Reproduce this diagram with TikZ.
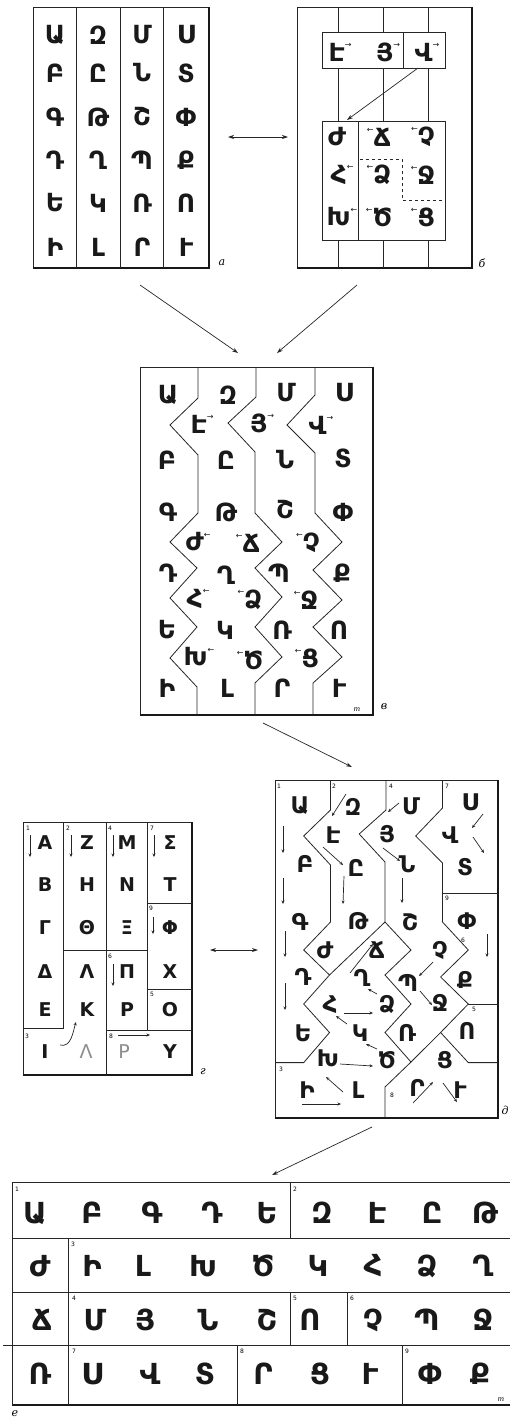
\documentclass[tikz,border=0pt]{standalone}
\usepackage{fontspec}
\setmainfont{DejaVu Sans}
\newfontfamily\labfont{DejaVu Serif}
\usetikzlibrary{arrows.meta,calc}
\newcommand\myra{\raisebox{0.55em}{\fontsize{8}{8}\selectfont\mdseries →}}
\newcommand\myla{\raisebox{0.55em}{\fontsize{8}{8}\selectfont\mdseries ←}}
\begin{document}
\begin{tikzpicture}[x=1pt,y=-1pt,
  ln/.style={line width=0.8pt, draw=black!85},
  thk/.style={line width=2.4pt, draw=black!90},
  hy/.style={font=\fontsize{25}{25}\selectfont\bfseries, inner sep=0pt, text=black!90},
  hyd/.style={font=\fontsize{23}{23}\selectfont\bfseries, inner sep=0pt, text=black!90},
  hye/.style={font=\fontsize{29}{29}\selectfont\bfseries, inner sep=0pt, text=black!90},
  gr/.style={font=\fontsize{19}{19}\selectfont\bfseries, inner sep=0pt, text=black!90},
  grl/.style={font=\fontsize{19}{19}\selectfont, inner sep=0pt, text=black!45},
  num/.style={font=\fontsize{6}{6}\selectfont, inner sep=0pt},
  lab/.style={font=\labfont\itshape\fontsize{11}{11}\selectfont, inner sep=0pt},
  mono/.style={font=\labfont\itshape\fontsize{7}{7}\selectfont, inner sep=0pt},
  arr/.style={-{Stealth[length=6pt,width=4pt]}, line width=0.7pt, draw=black!85},
  darr/.style={{Stealth[length=6pt,width=4pt]}-{Stealth[length=6pt,width=4pt]}, line width=0.7pt, draw=black!85},
  sarr/.style={-{Stealth[length=3.5pt,width=3pt]}, line width=0.7pt, draw=black!85},
]
\useasboundingbox (0,0) rectangle (510,1422);

% ---------- panel a ----------
\draw[ln] (33,7) rectangle (209,268);
\draw[thk] (209,7) -- (209,268) -- (33,268);
\foreach \x in {76,120,163} \draw[ln] (\x,7) -- (\x,268);
\foreach \l/\y [count=\r] in {Ա/35,Բ/73,Գ/117,Դ/160,Ե/203,Ի/247} \node[hy] (aA\r) at (55,\y) {\l};
\foreach \l/\y [count=\r] in {Զ/35,Ը/73,Թ/117,Ղ/160,Կ/203,Լ/247} \node[hy] (aB\r) at (98,\y) {\l};
\foreach \l/\y [count=\r] in {Մ/35,Ն/73,Շ/117,Պ/160,Ռ/203,Ր/247} \node[hy] (aC\r) at (142,\y) {\l};
\foreach \l/\y [count=\r] in {Ս/35,Տ/73,Փ/117,Ք/160,Ո/203,Ւ/247} \node[hy] (aD\r) at (186,\y) {\l};
\node[lab] (la) at (222,263) {а};

% ---------- panel b ----------
\draw[ln] (297,7) rectangle (472,268);
\draw[thk] (472,7) -- (472,268) -- (297,268);
\foreach \x in {338,383,428} {\draw[ln] (\x,7)--(\x,32); \draw[ln] (\x,68)--(\x,121); \draw[ln] (\x,240)--(\x,268);}
\draw[ln] (322,32) rectangle (445,68);
\draw[ln] (403,32) -- (403,68);
\draw[ln] (322,121) rectangle (445,240);
\draw[ln] (358,121) -- (358,240);
\draw[ln, dashed] (360,159) -- (402,159) -- (402,200) -- (445,200);
\node[hy] (b7) at (340,52) {Է\myra};
\node[hy] (b21) at (388,52) {Յ\myra};
\node[hy] (b30) at (427,52) {Վ\myra};
\node[hy] (b10) at (337,137) {Ժ};
\node[hy] (b19) at (379,137) {\myla Ճ};
\node[hy] (b25) at (423,137) {\myla Չ};
\node[hy] (b16) at (342,175) {Հ\myla};
\node[hy] (b17) at (379,175) {\myla Ձ};
\node[hy] (b27) at (423,175) {\myla Ջ};
\node[hy] (b13) at (342,217) {Խ\myla};
\node[hy] (b14) at (379,217) {\myla Ծ};
\node[hy] (b33) at (423,217) {\myla Ց};
\coordinate (bfrom) at (418,68);
\coordinate (bto) at (347,120);
\draw[arr] (bfrom) -- (bto);
\node[lab] (lb) at (482,263) {б};

% arrows between a, b, v
\coordinate (ab1) at (228,137); \coordinate (ab2) at (288,137);
\draw[darr] (ab1) -- (ab2);
\coordinate (av1) at (140,285); \coordinate (av2) at (238,353);
\draw[arr] (av1) -- (av2);
\coordinate (bv1) at (357,285); \coordinate (bv2) at (277,353);
\draw[arr] (bv1) -- (bv2);

% ---------- panel v ----------
\draw[ln] (140,367) rectangle (373,715);
\draw[thk] (373,367) -- (373,715) -- (140,715);
\draw[ln] (198,367)--(198,398)--(170,425)--(198,455)--(198,513)--(170,542)--(197,568)--(170,598)--(197,627)--(170,658)--(197,687)--(197,715);
\draw[ln] (256,367)--(256,397)--(228,423)--(255,452)--(255,513)--(282,542)--(255,568)--(282,597)--(255,627)--(282,657)--(255,683)--(255,715);
\draw[ln] (315,367)--(315,395)--(287,425)--(315,453)--(315,513)--(342,542)--(313,570)--(342,600)--(313,627)--(342,657)--(313,683)--(313,715);
\node[hy] (v1) at (168,395) {Ա};
\node[hy] (v6) at (228,395) {Զ};
\node[hy] (v20) at (286,393) {Մ};
\node[hy] (v29) at (344,393) {Ս};
\node[hy] (v7) at (202,424) {Է\myra};
\node[hy] (v21) at (262,423) {Յ\myra};
\node[hy] (v30) at (321,425) {Վ\myra};
\node[hy] (v2) at (167,460) {Բ};
\node[hy] (v8) at (226,460) {Ը};
\node[hy] (v22) at (285,460) {Ն};
\node[hy] (v31) at (343,458) {Տ};
\node[hy] (v3) at (168,512) {Գ};
\node[hy] (v9) at (226,512) {Թ};
\node[hy] (v23) at (285,510) {Շ};
\node[hy] (v35) at (343,512) {Փ};
\node[hy] (v10) at (198,542) {Ժ\myla};
\node[hy] (v19) at (248,543) {\myla Ճ};
\node[hy] (v25) at (308,543) {\myla Չ};
\node[hy] (v4) at (168,573) {Դ};
\node[hy] (v18) at (226,575) {Ղ};
\node[hy] (v26) at (279,573) {Պ};
\node[hy] (v36) at (342,573) {Ք};
\node[hy] (v16) at (198,599) {Հ\myla};
\node[hy] (v17) at (250,600) {\myla Ձ};
\node[hy] (v27) at (306,600) {\myla Ջ};
\node[hy] (v5) at (167,630) {Ե};
\node[hy] (v15) at (225,630) {Կ};
\node[hy] (v28) at (282,630) {Ռ};
\node[hy] (v24) at (339,630) {Ո};
\node[hy] (v13) at (199,657) {Խ\myla};
\node[hy] (v14) at (250,660) {\myla Ծ};
\node[hy] (v33) at (307,658) {\myla Ց};
\node[hy] (v11) at (167,688) {Ի};
\node[hy] (v12) at (227,688) {Լ};
\node[hy] (v32) at (282,688) {Ր};
\node[hy] (v34) at (339,688) {Ւ};
\node[mono] (vm) at (357,710) {m};
\node[lab] (lv) at (384,707) {в};

\coordinate (vd1) at (263,723); \coordinate (vd2) at (352,767);
\draw[arr] (vd1) -- (vd2);

% ---------- panel g (Greek) ----------
\draw[ln] (23,822) rectangle (192,1075);
\draw[thk] (192,822) -- (192,1075) -- (23,1075);
\draw[ln] (63,822) -- (63,1028) -- (23,1028);
\draw[ln] (106,822) -- (106,1075);
\draw[ln] (147,822) -- (147,1030);
\draw[ln] (147,903) -- (192,903);
\draw[ln] (63,950) -- (147,950);
\draw[ln] (147,989) -- (192,989);
\draw[ln] (106,1030) -- (192,1030);
\foreach \l/\y [count=\r] in {A/843,B/885,Γ/928,Δ/972,E/1010,I/1052} \node[gr] (gA\r) at (45,\y) {\l};
\foreach \l/\y [count=\r] in {Z/843,H/885,Θ/928,Λ/972,K/1010} \node[gr] (gB\r) at (87,\y) {\l};
\node[grl] (gB6) at (86,1052) {Λ};
\foreach \l/\y [count=\r] in {M/843,N/885,Ξ/928,Π/972,P/1010} \node[gr] (gC\r) at (127,\y) {\l};
\node[grl] (gC6) at (124,1052) {P};
\foreach \l/\y [count=\r] in {Σ/843,T/885,Φ/928,X/972,O/1010,Y/1052} \node[gr] (gD\r) at (170,\y) {\l};
\node[num] (gn1) at (28,828) {1};
\node[num] (gn2) at (68,828) {2};
\node[num] (gn4) at (110,828) {4};
\node[num] (gn7) at (152,828) {7};
\node[num] (gn9) at (151,908) {9};
\node[num] (gn6) at (110,956) {6};
\node[num] (gn5) at (152,994) {5};
\node[num] (gn3) at (27,1036) {3};
\node[num] (gn8) at (111,1036) {8};
\draw[sarr] ($(gA1)+(-15,-8)$) -- ($(gA1)+(-15,14)$);
\draw[sarr] ($(gB1)+(-16,-8)$) -- ($(gB1)+(-16,14)$);
\draw[sarr] ($(gC1)+(-14,-8)$) -- ($(gC1)+(-14,14)$);
\draw[sarr] ($(gD1)+(-16,-8)$) -- ($(gD1)+(-16,14)$);
\draw[sarr] ($(gC4)+(-14,-8)$) -- ($(gC4)+(-14,14)$);
\draw[sarr] ($(gD3)+(-17,-11)$) -- ($(gD3)+(-17,6)$);
\draw[sarr] ($(gA6)+(15,-7)$) .. controls ($(gA6)+(26,-4)$) and ($(gB5)+(-14,22)$) .. ($(gB5)+(-11,12)$);
\draw[sarr] ($(gC6)+(-6,-17)$) -- ($(gD6)+(-20,-17)$);
\node[lab] (lg) at (203,1072) {г};

\coordinate (gd1) at (210,950); \coordinate (gd2) at (258,950);
\draw[darr] (gd1) -- (gd2);

% ---------- panel d ----------
\draw[ln] (275,780) rectangle (498,1118);
\draw[thk] (498,780) -- (498,1118) -- (275,1118);
\draw[ln] (330.5,780)--(330.5,810)--(303.7,836)--(330.5,865)--(330.5,922)--(303.7,950)--(329.5,975)--(303.7,1004)--(329.5,1032.5)--(303.7,1062.6)--(275,1062.6);
\draw[ln] (386,780)--(386,810)--(359.2,834)--(385,862)--(385,922)--(411,950)--(385,975)--(411,1004)--(385,1032.5)--(411,1062)--(385,1087)--(385,1118);
\draw[ln] (442.5,780)--(442.5,808)--(415.7,836)--(442.5,863)--(442.5,922)--(468.3,950)--(440.6,977)--(468.3,1004)--(440.6,1032.5)--(468.3,1062.6)--(498,1062.6);
\draw[ln] (411,1062) -- (440.6,1032.5);
\draw[ln] (442.5,893) -- (498,893);
\draw[ln] (468.3,1004) -- (498,1004);
\draw[ln] (329.5,975) -- (385,922);
\node[hyd] (d1) at (300,806) {Ա};
\node[hyd] (d2) at (305,864) {Բ};
\node[hyd] (d3) at (300,922) {Գ};
\node[hyd] (d4) at (303,977) {Դ};
\node[hyd] (d5) at (303,1033) {Ե};
\node[hyd] (d6) at (353,807) {Զ};
\node[hyd] (d7) at (333,835) {Է};
\node[hyd] (d8) at (356,868) {Ը};
\node[hyd] (d9) at (358,921) {Թ};
\node[hyd] (d10) at (325,950) {Ժ};
\node[hyd] (d11) at (307,1090) {Ի};
\node[hyd] (d12) at (358,1090) {Լ};
\node[hyd] (d13) at (328,1058) {Խ};
\node[hyd] (d14) at (387,1060) {Ծ};
\node[hyd] (d15) at (360,1033) {Կ};
\node[hyd] (d16) at (330,1005) {Հ};
\node[hyd] (d17) at (387,1005) {Ձ};
\node[hyd] (d18) at (362,978) {Ղ};
\node[hyd] (d19) at (377,950) {Ճ};
\node[hyd] (d20) at (411,806) {Մ};
\node[hyd] (d21) at (387,834) {Յ};
\node[hyd] (d22) at (407,864) {Ն};
\node[hyd] (d23) at (410,922) {Շ};
\node[hyd] (d24) at (467,1031) {Ո};
\node[hyd] (d25) at (440,950) {Չ};
\node[hyd] (d26) at (408,983) {Պ};
\node[hyd] (d27) at (440,1003) {Ջ};
\node[hyd] (d28) at (407,1033) {Ռ};
\node[hyd] (d29) at (470,802) {Ս};
\node[hyd] (d30) at (450,835) {Վ};
\node[hyd] (d31) at (465,867) {Տ};
\node[hyd] (d32) at (417,1088) {Ր};
\node[hyd] (d33) at (445,1060) {Ց};
\node[hyd] (d34) at (460,1090) {Ւ};
\node[hyd] (d35) at (467,921) {Փ};
\node[hyd] (d36) at (465,980) {Ք};
\node[num] (dn1) at (279,786) {1};
\node[num] (dn2) at (334,786) {2};
\node[num] (dn4) at (391,786) {4};
\node[num] (dn7) at (447,786) {7};
\node[num] (dn9) at (447,898) {9};
\node[num] (dn6) at (463,940) {6};
\node[num] (dn5) at (474,1009) {5};
\node[num] (dn3) at (281,1069) {3};
\node[num] (dn8) at (392,1095) {8};
% reading arrows
\draw[sarr] ($(d1)+(-17,20)$) -- ($(d2)+(-22,-11)$);
\draw[sarr] ($(d2)+(-22,14)$) -- ($(d3)+(-17,-18)$);
\draw[sarr] ($(d3)+(-15,9)$) -- ($(d4)+(-18,-20)$);
\draw[sarr] ($(d4)+(-18,6)$) -- ($(d5)+(-18,-23)$);
\draw[sarr] ($(d6)+(-7,-13)$) -- ($(d7)+(-1,-19)$);
\draw[sarr] ($(d7)+(-10,12)$) -- ($(d8)+(-13,-3)$);
\draw[sarr] ($(d8)+(-12,8)$) -- ($(d9)+(-15,-17)$);
\draw[sarr] ($(d20)+(-12,-3)$) -- ($(d21)+(1,-22)$);
\draw[sarr] ($(d21)+(-4,14)$) -- ($(d22)+(-7,-3)$);
\draw[sarr] ($(d22)+(-5,14)$) -- ($(d23)+(-8,-19)$);
\draw[sarr] ($(d29)+(13,12)$) -- ($(d30)+(22,-7)$);
\draw[sarr] ($(d30)+(23,2)$) -- ($(d31)+(19,-14)$);
\draw[sarr] ($(d35)+(20,13)$) -- ($(d36)+(22,-23)$);
\draw[sarr] ($(d25)+(-7,12)$) -- ($(d26)+(11,-7)$);
\draw[sarr] ($(d26)+(12,8)$) -- ($(d27)+(-8,2)$);
\draw[sarr] ($(d11)+(-5,14)$) -- ($(d12)+(-17,14)$);
\draw[sarr] ($(d12)+(-15,2)$) -- ($(d13)+(-2,19)$);
\draw[sarr] ($(d13)+(12,6)$) -- ($(d14)+(-14,6)$);
\draw[sarr] ($(d14)+(-10,-11)$) -- ($(d15)+(6,11)$);
\draw[sarr] ($(d15)+(-13,-9)$) -- ($(d16)+(6,11)$);
\draw[sarr] ($(d16)+(14,8)$) -- ($(d17)+(-14,8)$);
\draw[sarr] ($(d17)+(-10,-11)$) -- ($(d18)+(6,11)$);
\draw[sarr] ($(d18)+(-12,-5)$) -- ($(d19)+(-4,-6)$);
\draw[sarr] ($(d32)+(-4,15)$) -- ($(d33)+(-12,22)$);
\draw[sarr] ($(d33)+(-2,23)$) -- ($(d34)+(-3,12)$);
\node[lab] (ld) at (505,1110) {д};

\coordinate (de1) at (372,1127); \coordinate (de2) at (272,1175);
\draw[arr] (de1) -- (de2);

% ---------- panel e (final table) ----------
\draw[ln] (12,1182) -- (510,1182);
\draw[ln] (12,1238) -- (510,1238);
\draw[ln] (12,1292) -- (510,1292);
\draw[ln] (3,1345) -- (510,1345);
\draw[thk] (12,1405) -- (510,1405);
\draw[ln] (12,1182) -- (12,1405);
\draw[ln] (290,1182) -- (290,1238);
\draw[ln] (68,1238) -- (68,1405);
\draw[ln] (290,1292) -- (290,1345);
\draw[ln] (347,1292) -- (347,1345);
\draw[ln] (237,1345) -- (237,1405);
\draw[ln] (402,1345) -- (402,1405);
\foreach \l/\x [count=\i] in {Ա/35,Բ/92,Գ/152,Դ/212,Ե/267,Զ/322,Է/377,Ը/432,Թ/485} \node[hye] (eA\i) at (\x,1213) {\l};
\foreach \l/\x [count=\i] in {Ժ/40,Ի/92,Լ/143,Խ/203,Ծ/263,Կ/318,Հ/373,Ձ/427,Ղ/483} \node[hye] (eB\i) at (\x,1266) {\l};
\foreach \l/\x [count=\i] in {Ճ/42,Մ/95,Յ/145,Ն/208,Շ/267,Ո/310,Չ/373,Պ/427,Ջ/483} \node[hye] (eC\i) at (\x,1320) {\l};
\foreach \l/\x [count=\i] in {Ռ/40,Ս/92,Վ/150,Տ/205,Ր/263,Ց/320,Ւ/370,Փ/430,Ք/480} \node[hye] (eD\i) at (\x,1374) {\l};
\node[num] (en1) at (17,1189) {1};
\node[num] (en2) at (295,1189) {2};
\node[num] (en3) at (73,1244) {3};
\node[num] (en4) at (74,1298) {4};
\node[num] (en5) at (295,1298) {5};
\node[num] (en6) at (352,1298) {6};
\node[num] (en7) at (74,1351) {7};
\node[num] (en8) at (242,1351) {8};
\node[num] (en9) at (407,1351) {9};
\node[mono] (em) at (501,1400) {m};
\node[lab] (le) at (15,1414) {е};
\end{tikzpicture}
\end{document}
